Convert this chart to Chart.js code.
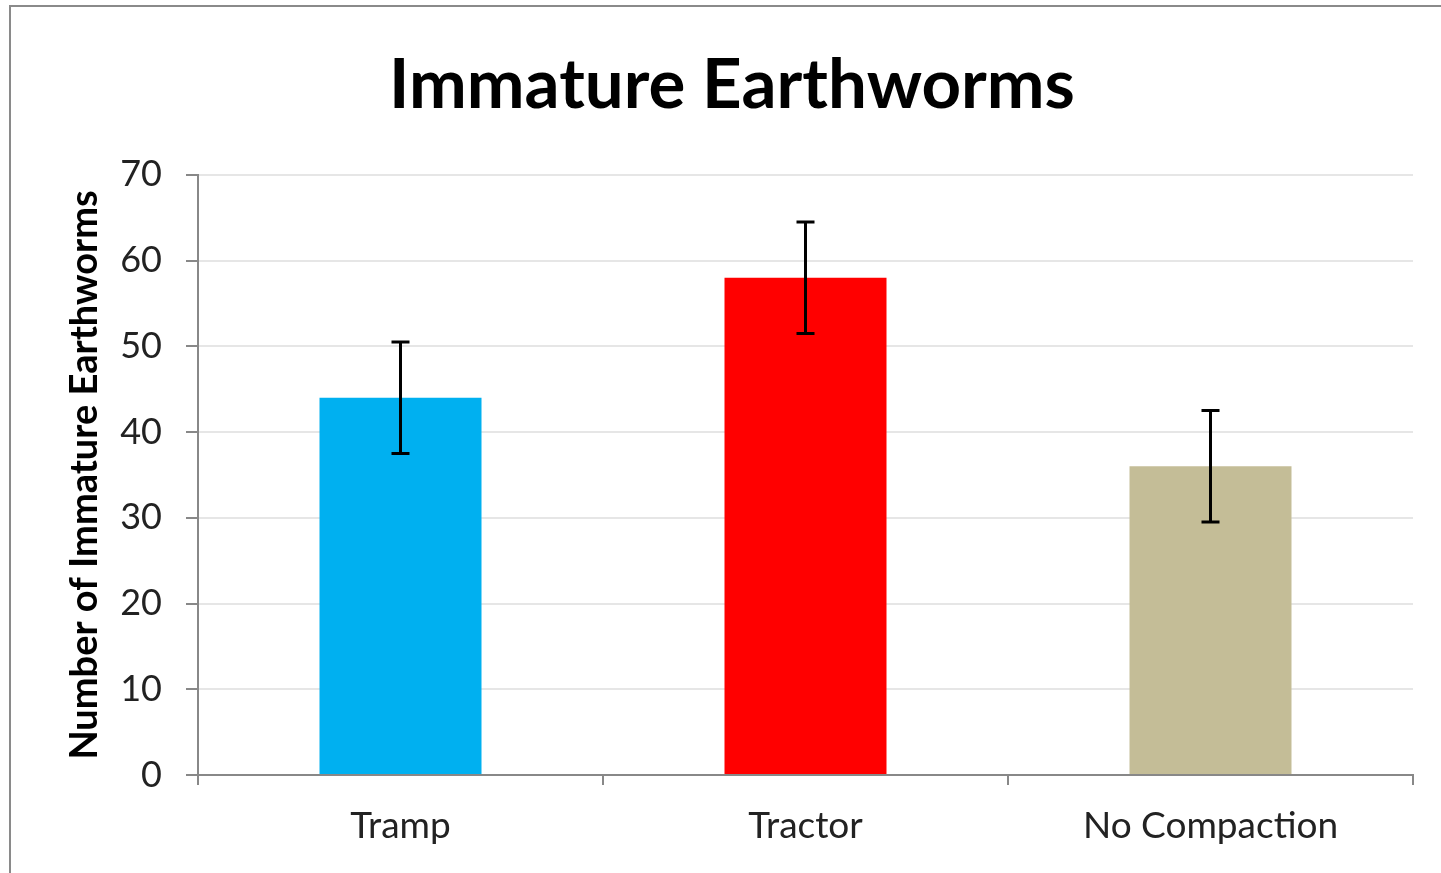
<!DOCTYPE html>
<html>
<head>
<meta charset="utf-8">
<script src="https://cdn.jsdelivr.net/npm/chart.js@4.4.1/dist/chart.umd.min.js"></script>
<style>
  html, body { margin: 0; padding: 0; background: #fff; overflow: hidden; }
  #wrap { width: 1465px; height: 873px; position: relative; }
</style>
</head>
<body>
<div id="wrap"><canvas id="grafico"></canvas></div>
<script>
// datos del gráfico
const categorias = ["Tramp", "Tractor", "No Compaction"];
const valores = [44, 58, 36];
const errores = [6.5, 6.5, 6.5];
const colores = ["#00B0F0", "#FF0000", "#C4BD97"];
const ticksY = [0, 10, 20, 30, 40, 50, 60, 70];

const fuente = "Lato, 'Noto Sans', sans-serif";

// marco gris alrededor del gráfico
const marco = {
  id: "marco",
  beforeDraw(chart) {
    const ctx = chart.ctx;
    ctx.save();
    ctx.strokeStyle = "#8a8a8a";
    ctx.lineWidth = 2;
    ctx.strokeRect(10, 6, 1500, 1000);
    ctx.restore();
  }
};

// barras de error
const barrasError = {
  id: "barrasError",
  afterDatasetsDraw(chart) {
    const ctx = chart.ctx;
    const meta = chart.getDatasetMeta(0);
    const y = chart.scales.y;
    ctx.save();
    ctx.strokeStyle = "#000";
    ctx.lineWidth = 3;
    meta.data.forEach((bar, i) => {
      const x = bar.x;
      const top = y.getPixelForValue(valores[i] + errores[i]);
      const bot = y.getPixelForValue(valores[i] - errores[i]);
      ctx.beginPath();
      ctx.moveTo(x, top); ctx.lineTo(x, bot);
      ctx.moveTo(x - 9, top); ctx.lineTo(x + 9, top);
      ctx.moveTo(x - 9, bot); ctx.lineTo(x + 9, bot);
      ctx.stroke();
    });
    ctx.restore();
  }
};

new Chart(document.getElementById("grafico"), {
  type: "bar",
  data: {
    labels: categorias,
    datasets: [{
      data: valores,
      backgroundColor: colores,
      borderWidth: 0,
      categoryPercentage: 1,
      barPercentage: 0.4
    }]
  },
  options: {
    responsive: true,
    maintainAspectRatio: false,
    animation: false,
    layout: { padding: { left: 51, right: 52, top: 0, bottom: 0 } },
    plugins: {
      legend: { display: false },
      tooltip: { enabled: false },
      title: {
        display: true,
        text: "Immature Earthworms",
        color: "#000",
        font: { family: fuente, size: 69, weight: "bold", lineHeight: 1.2 },
        padding: { top: 44, bottom: 48 }
      }
    },
    scales: {
      x: {
        offset: true,
        grid: {
          offset: true,
          drawOnChartArea: false,
          drawTicks: true,
          tickLength: 10,
          tickColor: "#888",
          lineWidth: 2
        },
        border: { color: "#888", width: 2 },
        ticks: {
          color: "#222",
          font: { family: fuente, size: 37 },
          padding: 19
        },
        afterFit(scale) { scale.height = 98; }
      },
      y: {
        min: 0,
        max: 70,
        afterBuildTicks(scale) {
          scale.ticks = ticksY.map(v => ({ value: v }));
        },
        grid: {
          color: "#e6e6e6",
          lineWidth: 2,
          tickLength: 12,
          tickColor: "#888"
        },
        border: { color: "#888", width: 2 },
        ticks: {
          color: "#222",
          font: { family: fuente, size: 36 },
          padding: 24
        },
        title: {
          display: true,
          text: "Number of Immature Earthworms",
          color: "#000",
          font: { family: fuente, size: 38, weight: "bold", lineHeight: 1.2 },
          padding: { top: 11, bottom: 0 }
        },
        afterFit(scale) { scale.width = 147; }
      }
    }
  },
  plugins: [marco, barrasError]
});
</script>
</body>
</html>
